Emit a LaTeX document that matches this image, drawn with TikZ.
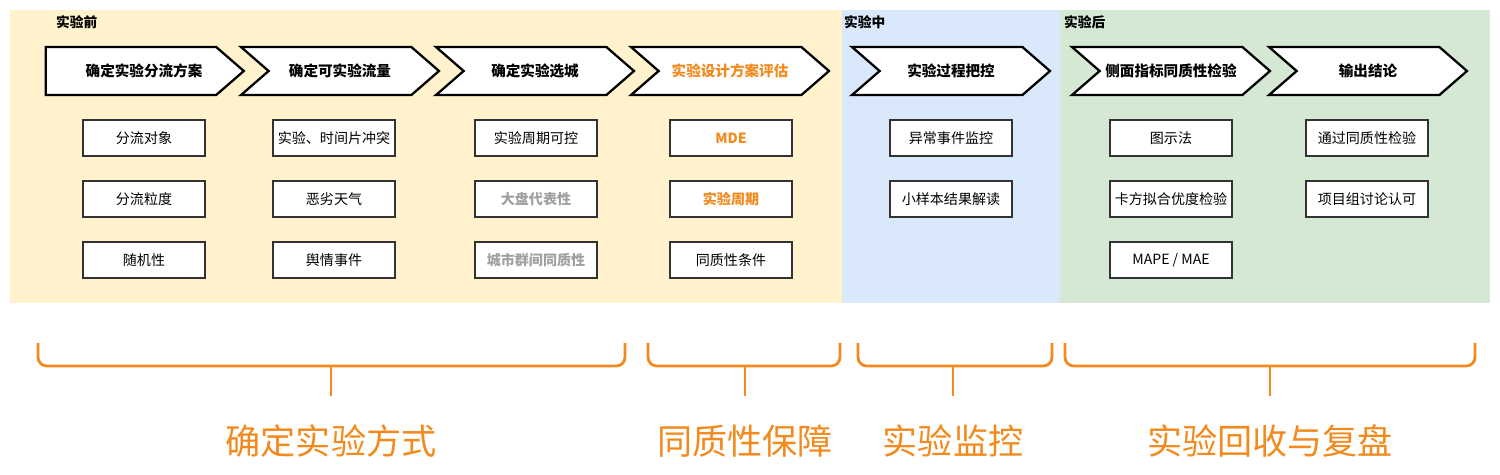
\documentclass[tikz,border=0pt]{standalone}
\usepackage{fontspec}
\setmainfont{Noto Sans CJK SC}
\usetikzlibrary{shapes.symbols}

\definecolor{phasepre}{HTML}{FFF2CC}
\definecolor{phasemid}{HTML}{DAE8FC}
\definecolor{phasepost}{HTML}{D5E8D4}
\definecolor{accent}{HTML}{F28A1E}
\definecolor{muted}{HTML}{A0A0A0}

\begin{document}
\begin{tikzpicture}[x=0.02cm, y=-0.02cm,
    stage/.style={signal, signal to=east, signal from=west, signal pointer angle=82, draw=black, line width=1.3pt, fill=white, minimum width=3.96cm, minimum height=0.96cm, inner sep=0pt, font=\fontsize{8.3}{10}\selectfont\bfseries},
    stagetext/.style={inner sep=0pt, font=\fontsize{8.3}{10}\selectfont\bfseries},
    item/.style={rectangle, draw=black!80, line width=0.8pt, fill=white, minimum width=2.44cm, minimum height=0.72cm, inner sep=0pt, font=\fontsize{8}{10}\selectfont},
    phase/.style={anchor=west, font=\fontsize{7.8}{10}\selectfont\bfseries},
    goal/.style={font=\fontsize{20}{24}\selectfont, text=accent},
    bracket/.style={draw=accent, line width=1.6pt, rounded corners=5pt}]
        \useasboundingbox (0, 0) rectangle (1500, 474);

        % phases
        \fill[phasepre] (10, 10) rectangle (842, 303);
        \fill[phasemid] (842, 10) rectangle (1060, 303);
        \fill[phasepost] (1060, 10) rectangle (1490, 303);

        \node[phase] (pre) at (50, 22) { 实验前 };
        \node[phase] (mid) at (838, 22) { 实验中 };
        \node[phase] (post) at (1058, 22) { 实验后 };

        % steps
        \node[stage, signal from=nowhere] (split) at (131, 71) {};
        \node[stagetext] (splitlabel) at (144, 71) { 确定实验分流方案 };
        \node[stage] (traffic) at (340, 71) { 确定可实验流量 };
        \node[stage] (city) at (535, 71) { 确定实验选城 };
        \node[stage, text=accent] (design) at (730, 71) { 实验设计方案评估 };
        \node[stage] (control) at (951, 71) { 实验过程把控 };
        \node[stage] (sidecheck) at (1171, 71) { 侧面指标同质性检验 };
        \node[stage] (conclude) at (1368, 71) { 输出结论 };

        % details
        \node[item] (object) at (144, 138) { 分流对象 };
        \node[item] (granularity) at (144, 199) { 分流粒度 };
        \node[item] (random) at (144, 260) { 随机性 };

        \node[item] (conflict) at (334, 138) { 实验、时间片冲突 };
        \node[item] (weather) at (334, 199) { 恶劣天气 };
        \node[item] (opinion) at (334, 260) { 舆情事件 };

        \node[item] (period) at (536, 138) { 实验周期可控 };
        \node[item, text=muted, font=\fontsize{8}{10}\selectfont\bfseries] (market) at (536, 199) { 大盘代表性 };
        \node[item, text=muted, font=\fontsize{8}{10}\selectfont\bfseries] (cluster) at (536, 260) { 城市群间同质性 };

        \node[item, text=accent, font=\fontsize{8}{10}\selectfont\bfseries] (mde) at (731, 138) { MDE };
        \node[item, text=accent, font=\fontsize{8}{10}\selectfont\bfseries] (cycle) at (731, 199) { 实验周期 };
        \node[item] (homog) at (731, 260) { 同质性条件 };

        \node[item] (anomaly) at (951, 138) { 异常事件监控 };
        \node[item] (sample) at (951, 199) { 小样本结果解读 };

        \node[item] (chart) at (1171, 138) { 图示法 };
        \node[item] (chisq) at (1171, 199) { 卡方拟合优度检验 };
        \node[item] (mape) at (1171, 260) { MAPE / MAE };

        \node[item] (passed) at (1367, 138) { 通过同质性检验 };
        \node[item] (approve) at (1367, 199) { 项目组讨论认可 };

        % braces
        \draw[bracket] (38, 343) -- (38, 366) -- (625, 366) -- (625, 343);
        \draw[bracket] (331, 366) -- (331, 396);
        \draw[bracket] (648, 343) -- (648, 366) -- (840, 366) -- (840, 343);
        \draw[bracket] (745, 366) -- (745, 396);
        \draw[bracket] (858, 343) -- (858, 366) -- (1052, 366) -- (1052, 343);
        \draw[bracket] (953, 366) -- (953, 396);
        \draw[bracket] (1065, 343) -- (1065, 366) -- (1475, 366) -- (1475, 343);
        \draw[bracket] (1270, 366) -- (1270, 396);

        \node[goal] (method) at (331, 441) { 确定实验方式 };
        \node[goal] (guarantee) at (745, 441) { 同质性保障 };
        \node[goal] (monitor) at (953, 441) { 实验监控 };
        \node[goal] (review) at (1270, 441) { 实验回收与复盘 };

    \end{tikzpicture}
\end{document}
